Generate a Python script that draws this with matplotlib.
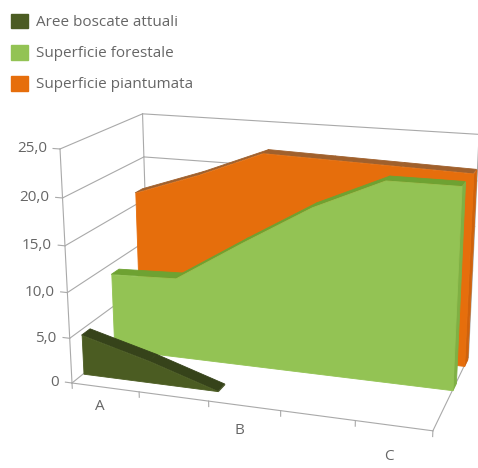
import matplotlib
matplotlib.use("Agg")
import matplotlib.pyplot as plt
import matplotlib.patches as mpatches
import numpy as np
from mpl_toolkits.mplot3d import proj3d
from mpl_toolkits.mplot3d.art3d import Poly3DCollection

plt.rcParams['font.family'] = ['Open Sans', 'DejaVu Sans']

# serie, dal fronte verso il fondo
serie = ["Aree boscate attuali", "Superficie forestale", "Superficie piantumata"]
aree_boscate = [4.4, 2.4, 0.0]
sup_forestale = [8.8, 9.1, 13.8, 18.3, 21.7, 21.7]
sup_piantumata = [16.4, 19.0, 22.0, 21.8, 21.6, 21.4]
etichette = ["A", "B", "C"]
zticks = [0, 5, 10, 15, 20, 25]
zlabels = ["0", "5,0", "10,0", "15,0", "20,0", "25,0"]

col_fronte = ['#4b5c22', '#93c354', '#e66e0c']
col_sopra = ['#36431a', '#6ea232', '#a0602c']
col_lato = ['#3f4e1c', '#7fb044', '#d0620c']
grigio = '#a9a9a9'
testo = '#666666'

npunti = 6
profondita = 3
xmax = npunti - 1

fig = plt.figure(figsize=(4.78, 4.68), dpi=100)
ax = fig.add_subplot(projection='3d', computed_zorder=False)
ax.set_proj_type('persp', focal_length=0.5)
ax.view_init(elev=17, azim=-72)
ax.set_box_aspect((380, 200, 248))
ax.set_xlim(0, xmax)
ax.set_ylim(0, profondita)
ax.set_zlim(0, 25)
ax.set_axis_off()

# pareti: fondo e sinistra con le linee di griglia
for z in zticks:
    ax.plot([0, 0], [0, profondita], [z, z], color=grigio, lw=0.8, zorder=1)
    ax.plot([0, xmax], [profondita, profondita], [z, z], color=grigio, lw=0.8, zorder=1)
ax.plot([0, 0], [profondita, profondita], [0, 25], color=grigio, lw=0.8, zorder=1)
ax.plot([xmax, xmax], [profondita, profondita], [0, 25], color=grigio, lw=0.8, zorder=1)
ax.plot([xmax, xmax], [0, profondita], [0, 0], color=grigio, lw=0.8, zorder=1)

# asse verticale con tacche
ax.plot([0, 0], [0, 0], [0, 25], color=grigio, lw=0.8, zorder=1)
for z in zticks:
    ax.plot([-0.1, 0], [0, 0], [z, z], color=grigio, lw=0.8, zorder=1)


def nastro(valori, y0, y1, k, zo):
    xs = np.arange(len(valori))
    v = np.asarray(valori, dtype=float)
    fronte = [(x, y0, z) for x, z in zip(xs, v)] + [(xs[-1], y0, 0), (0, y0, 0)]
    sopra = []
    for i in range(len(xs) - 1):
        sopra.append([(xs[i], y0, v[i]), (xs[i + 1], y0, v[i + 1]),
                      (xs[i + 1], y1, v[i + 1]), (xs[i], y1, v[i])])
    lato = [(xs[-1], y0, 0), (xs[-1], y1, 0), (xs[-1], y1, v[-1]), (xs[-1], y0, v[-1])]
    for facce, colore in [(sopra, col_sopra[k]), ([lato], col_lato[k]), ([fronte], col_fronte[k])]:
        pc = Poly3DCollection(facce, facecolors=colore, edgecolors=colore, linewidths=0.6)
        pc.set_zorder(zo)
        ax.add_collection3d(pc)


# dal fondo verso il fronte
nastro(sup_piantumata, 2.6, 2.9, 2, 2)
nastro(sup_forestale, 1.55, 1.85, 1, 3)
nastro(aree_boscate, 0.4, 0.7, 0, 4)

# bordo anteriore del pavimento con tacche
ax.plot([0, xmax], [0, 0], [0, 0], color=grigio, lw=0.8, zorder=5)
for x in range(npunti):
    ax.plot([x, x], [0, 0], [0, -0.6], color=grigio, lw=0.8, zorder=5)

handles = [mpatches.Patch(facecolor=c, edgecolor=c, label=s) for c, s in zip(col_fronte, serie)]
fig.legend(handles=handles, loc='upper left', bbox_to_anchor=(0.0, 0.995), frameon=False,
           fontsize=11, labelcolor=testo, handlelength=1.1, handleheight=1.1,
           handletextpad=0.5, labelspacing=0.95, borderaxespad=0.35)

# adatta la scatola 3D: angoli anteriori del pavimento
fig.canvas.draw()
W, H = fig.bbox.width, fig.bbox.height
M = ax.get_proj()


def px(x, y, z):
    xs, ys, _ = proj3d.proj_transform(np.array([x]), np.array([y]), np.array([z]), M)
    return ax.transData.transform((xs[0], ys[0]))


bb = ax.get_position()
lato_px = bb.width * W
centro = np.array([(bb.x0 + bb.x1) / 2 * W, (bb.y0 + bb.y1) / 2 * H])
p0, p1 = px(0, 0, 0), px(xmax, 0, 0)
t0, t1 = np.array([72.0, H - 383]), np.array([432.0, H - 437])
k = np.hypot(*(t1 - t0)) / np.hypot(*(p1 - p0))
nuovo = lato_px * k
c = t0 - (p0 - centro) * k
ax.set_position([(c[0] - nuovo / 2) / W, (c[1] - nuovo / 2) / H, nuovo / W, nuovo / H])
ax.apply_aspect()

# etichette come testo 2D nella posizione proiettata
for z, lab in zip(zticks, zlabels):
    qx, qy = px(0, 0, z)
    fig.text((qx - 13) / W, qy / H, lab, ha='right', va='center', fontsize=11, color=testo)
for i, lab in enumerate(etichette):
    qx, qy = px(2 * i + 0.5, -0.1, -2.2)
    fig.text((qx - 3) / W, (qy + 3 - 5 * i) / H, lab, ha='center', va='center',
             fontsize=11, color=testo)

fig.savefig("out.png", dpi=100)
